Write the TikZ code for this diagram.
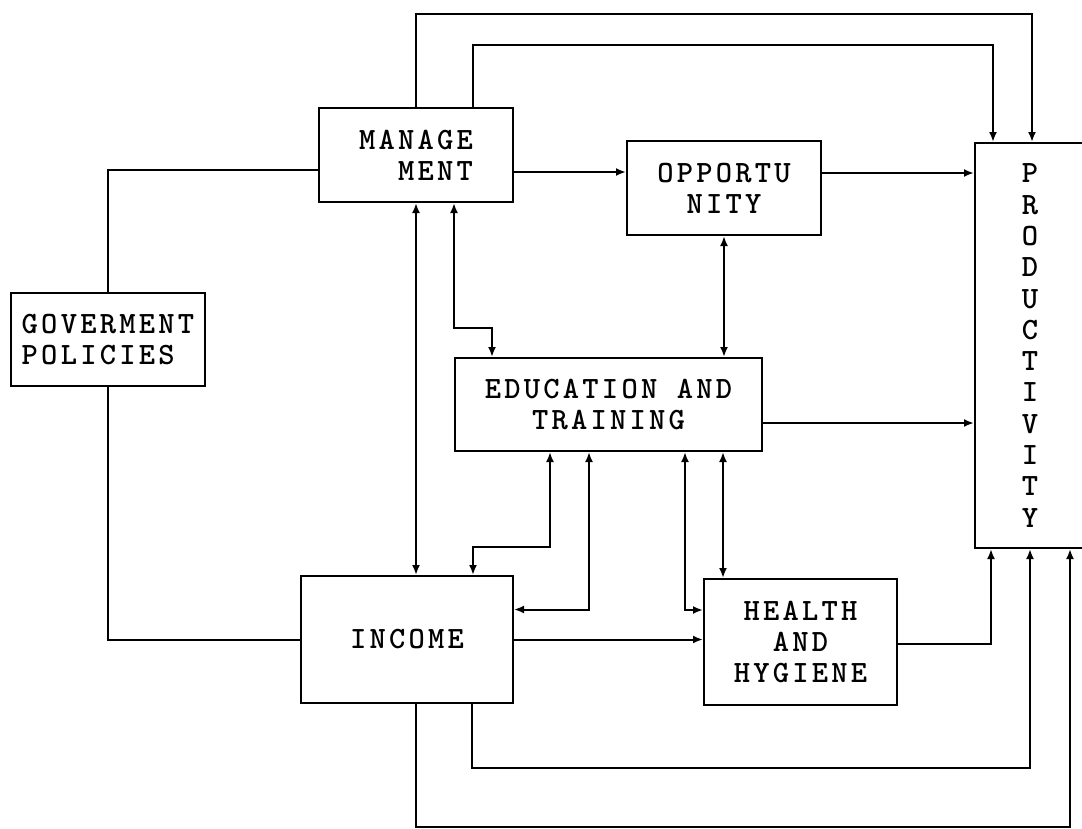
\documentclass[tikz,border=0pt]{standalone}
\usepackage{fontspec}
\newfontfamily\boxfont{lmmonolt10-bold}[Extension=.otf,LetterSpace=10.5]
\usetikzlibrary{arrows.meta}
\tikzstyle{block} = [rectangle, draw=black, line width=2pt, inner sep=0pt, font={\fontsize{31}{31}\boxfont}]
\tikzstyle{link} = [line width=2pt]
\tikzstyle{arrow} = [line width=2pt,-{Latex[length=10pt,width=8pt]}]
\tikzstyle{twoway} = [line width=2pt,{Latex[length=10pt,width=8pt]}-{Latex[length=10pt,width=8pt]}]

\begin{document}
\begin{tikzpicture}[x=1pt, y=-1pt]
\useasboundingbox (0,0) rectangle (1082,828);

\node (gov) [block, minimum width=194pt, minimum height=93pt, align=left] at (108,339.5) {GOVERMENT\\POLICIES};
\node (mgmt) [block, minimum width=194pt, minimum height=94pt, align=right] at (416,155) {MANAGE\\MENT};
\node (opp) [block, minimum width=194pt, minimum height=94pt, align=center] at (724,188) {OPPORTU\\NITY};
\node (prod) [block, minimum width=110pt, minimum height=405pt, align=center, font={\fontsize{31}{31.3}\boxfont}] at (1030,345.5) {P\\R\\O\\D\\U\\C\\T\\I\\V\\I\\T\\Y};
\node (edu) [block, minimum width=307pt, minimum height=93pt, align=center] at (608.5,404.5) {EDUCATION AND\\TRAINING};
\node (inc) [block, minimum width=212pt, minimum height=127pt] at (407,639.5) {INCOME};
\node (health) [block, minimum width=193pt, minimum height=126pt, align=center] at (800.5,642) {HEALTH\\AND\\HYGIENE};

\coordinate (topA) at (0,14);
\coordinate (topB) at (0,45);

% goverment policies
\draw [link] (gov.north) |- ([yshift=-15pt]mgmt.west);
\draw [link] (gov.south) |- (inc.west);

% management
\draw [arrow] (mgmt.north) -- (mgmt.north |- topA) -| ([xshift=2pt]prod.north);
\draw [arrow] ([xshift=57pt]mgmt.north) -- ([xshift=57pt]mgmt.north |- topB) -| ([xshift=-37pt]prod.north);
\draw [arrow] ([yshift=-17pt]mgmt.east) -- ([yshift=-17pt]mgmt.east -| opp.west);
\draw [twoway] (mgmt.south) -- (mgmt.south |- inc.north);
\draw [twoway] ([xshift=38pt]mgmt.south) -- ++(0,125) -| ([xshift=38pt]edu.north west);

% opportunity
\draw [arrow] ([yshift=15pt]opp.east) -- ([yshift=15pt]opp.east -| prod.west);
\draw [twoway] (opp.south) -- (opp.south |- edu.north);

% education and training
\draw [arrow] ([yshift=-18.5pt]edu.east) -- ([yshift=-18.5pt]edu.east -| prod.west);
\draw [twoway] ([xshift=96pt]edu.south west) -- ++(0,95) -| ([xshift=173pt]inc.north west);
\draw [twoway] ([xshift=135pt]edu.south west) |- ([yshift=30pt]inc.east);
\draw [twoway] ([xshift=231pt]edu.south west) |- ([yshift=32pt]health.west);
\draw [twoway] ([xshift=20pt]health.north west) -- ([xshift=20pt]health.north west |- edu.south);

% income and health
\draw [arrow] (inc.east) -- (inc.east -| health.west);
\draw [arrow] ([yshift=-2pt]health.east) -| ([xshift=17pt]prod.south west);
\draw [arrow] ([xshift=172pt]inc.south west) -- ++(0,64) -| (prod.south);
\draw [arrow] ([xshift=9pt]inc.south) -- ++(0,123) -| ([xshift=40pt]prod.south);

\end{tikzpicture}
\end{document}
